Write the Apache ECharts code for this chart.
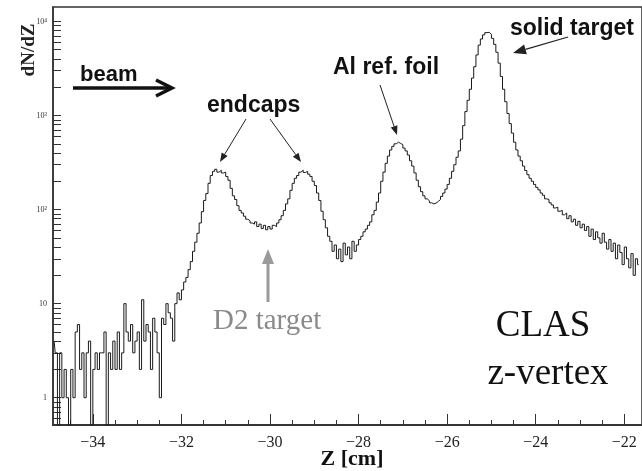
<!DOCTYPE html>
<html>
<head>
<meta charset="utf-8">
<script src="https://cdn.jsdelivr.net/npm/echarts@6/dist/echarts.min.js"></script>
<style>
html, body { margin: 0; padding: 0; background: #fff; }
#chart { width: 642px; height: 471px; }
</style>
</head>
<body>
<div id="chart"></div>
<script>
// histogram: 0.05 cm bins starting at z = -34.9 cm, one row per 0.5 cm
const binStart = -34.9
const binWidth = 0.05
const counts = [
  4, 3, 0, 3, 1, 2, 1, 0, 2, 1,
  5, 6, 2, 3, 1, 3, 4, 0, 2, 3,
  2, 3, 3, 5, 0, 3, 2, 4, 2, 5,
  2, 3, 10, 5, 4, 6, 3, 4, 5, 2,
  11, 4, 6, 5, 2, 7, 5, 3, 1, 7,
  6, 10, 8, 7, 4, 10, 13, 11, 14, 17,
  19, 23, 28, 36, 45, 56, 72, 95, 125, 148,
  190, 230, 255, 268, 250, 262, 245, 250, 225, 205,
  168, 140, 128, 110, 98, 92, 85, 79, 76, 72,
  70, 74, 66, 70, 63, 68, 61, 66, 62, 68,
  66, 72, 78, 86, 98, 115, 130, 160, 190, 215,
  230, 250, 262, 248, 255, 238, 225, 200, 180, 150,
  125, 96, 78, 64, 52, 46, 36, 42, 30, 38,
  28, 44, 33, 40, 30, 46, 36, 42, 48, 52,
  58, 62, 68, 74, 88, 98, 120, 150, 200, 250,
  310, 370, 430, 470, 500, 520, 505, 490, 450, 420,
  380, 330, 290, 245, 205, 175, 155, 140, 130, 124,
  118, 115, 117, 122, 128, 138, 150, 165, 185, 215,
  255, 300, 360, 420, 560, 780, 1100, 1450, 1900, 2500,
  3300, 4400, 5600, 6500, 7200, 7600, 7650, 7300, 6600, 5700,
  4700, 3600, 2600, 1900, 1400, 1050, 820, 650, 520, 430,
  370, 330, 290, 260, 235, 215, 200, 185, 172, 162,
  150, 142, 130, 128, 118, 112, 104, 106, 96, 98,
  88, 92, 80, 86, 74, 79, 68, 75, 64, 70,
  60, 66, 52, 62, 48, 58, 50, 44, 56, 45,
  38, 48, 36, 44, 30, 42, 35, 26, 40, 30,
  24, 34, 20, 30, 26
]

const xTickMajor = [-34, -32, -30, -28, -26, -24, -22]
const xTickMinor = [-34.5, -34, -33.5, -33, -32.5, -32, -31.5, -31, -30.5, -30, -29.5, -29,
  -28.5, -28, -27.5, -27, -26.5, -26, -25.5, -25, -24.5, -24, -23.5, -23, -22.5, -22]
const yTickValues = [1, 10, 100, 1000, 10000]
const yTickLabels = ['1', '10', '10²', '10³', '10⁴']
const yTickAll = [0.6, 0.7, 0.8, 0.9, 1, 2, 3, 4, 5, 6, 7, 8, 9, 10, 20, 30, 40, 50, 60, 70, 80, 90,
  100, 200, 300, 400, 500, 600, 700, 800, 900, 1000, 2000, 3000, 4000, 5000, 6000, 7000, 8000, 9000, 10000]

// empty bins can't sit on a log axis, push them below the frame so they get clipped
const histData = counts.map((c, i) => [binStart + binWidth * (i + 0.5), c > 0 ? c : 0.3])

const serif = '"Liberation Serif", "DejaVu Serif", serif'
const sans = '"Liberation Sans", Arial, sans-serif'
// grid runs 2px past the right edge so its border there stays off-canvas
const xRange = { min: -34.9, max: -21.6 }
const yRange = { min: 0.513, max: 14230 }
const frameLine = { color: '#333', width: 1.5 }

function arrow(x1, y1, x2, y2, color, width, headLen, headWid) {
  const a = Math.atan2(y2 - y1, x2 - x1)
  const bx = x2 - Math.cos(a) * headLen
  const by = y2 - Math.sin(a) * headLen
  const nx = -Math.sin(a) * headWid / 2
  const ny = Math.cos(a) * headWid / 2
  return {
    type: 'group',
    children: [
      { type: 'line', shape: { x1: x1, y1: y1, x2: bx, y2: by }, style: { stroke: color, lineWidth: width } },
      { type: 'polygon', shape: { points: [[x2, y2], [bx + nx, by + ny], [bx - nx, by - ny]] }, style: { fill: color } }
    ]
  }
}

function label(text, x, y, font, color, align, rotation) {
  return {
    type: 'text', x: x, y: y, rotation: rotation || 0,
    style: { text: text, font: font, fill: color || '#111', align: align || 'left', verticalAlign: 'middle' }
  }
}

const chart = echarts.init(document.getElementById('chart'))

chart.setOption({
  backgroundColor: '#fff',
  animation: false,
  grid: { left: 53, right: -2, top: 7, bottom: 46, show: true, borderColor: '#333', borderWidth: 1.5 },
  xAxis: [
    {
      type: 'value', min: xRange.min, max: xRange.max, position: 'bottom',
      axisLine: { onZero: false, lineStyle: frameLine },
      axisTick: { inside: true, length: 11, customValues: xTickMajor, lineStyle: { color: '#333' } },
      axisLabel: {
        customValues: xTickMajor, margin: 10, color: '#222', fontSize: 16, fontFamily: serif,
        formatter: (v) => '\u2212' + Math.abs(v)
      },
      splitLine: { show: false }
    },
    {
      // second bottom axis over the first one, only for the 0.5 cm ticks
      type: 'value', min: xRange.min, max: xRange.max, position: 'bottom',
      axisLine: { show: true, onZero: false, lineStyle: frameLine },
      axisTick: { show: true, inside: true, length: 5, customValues: xTickMinor, lineStyle: { color: '#333' } },
      axisLabel: { show: false },
      splitLine: { show: false }
    }
  ],
  yAxis: [
    {
      type: 'log', min: yRange.min, max: yRange.max, position: 'left',
      axisLine: { show: true, onZero: false, lineStyle: frameLine },
      axisTick: { inside: true, length: 8, customValues: yTickAll, lineStyle: { color: '#333' } },
      axisLabel: {
        customValues: yTickValues, margin: 6, color: '#333', fontSize: 8, fontFamily: serif,
        formatter: (v) => yTickLabels[yTickValues.indexOf(Math.round(v))] || ''
      },
      splitLine: { show: false }
    }
  ],
  series: [
    {
      type: 'line',
      step: 'middle',
      data: histData,
      xAxisIndex: 0,
      yAxisIndex: 0,
      showSymbol: false,
      clip: true,
      lineStyle: { color: '#1a1a1a', width: 1 }
    },
    {
      // same histogram, not drawn: binds the minor-tick axis so it gets rendered
      type: 'line',
      step: 'middle',
      data: histData,
      xAxisIndex: 1,
      yAxisIndex: 0,
      showSymbol: false,
      silent: true,
      lineStyle: { opacity: 0 }
    }
  ],
  graphic: [
    label('dN/dZ', 29, 50, 'bold 19px ' + serif, '#222', 'center', Math.PI / 2),
    label('Z [cm]', 352, 459, 'bold 22px ' + serif, '#111', 'center'),

    label('beam', 80, 75, 'bold 22px ' + sans),
    { type: 'line', shape: { x1: 73, y1: 88, x2: 171, y2: 88 }, style: { stroke: '#111', lineWidth: 3.5 } },
    { type: 'polyline', shape: { points: [[156, 80], [172, 88], [156, 96]] }, style: { stroke: '#111', lineWidth: 3.5, fill: null } },

    label('endcaps', 207, 106, 'bold 23px ' + sans),
    arrow(246, 119, 220, 162, '#222', 1, 9, 7),
    arrow(270, 119, 301, 162, '#222', 1, 9, 7),

    label('Al ref. foil', 333, 68, 'bold 23px ' + sans),
    arrow(380, 85, 397, 135, '#222', 1, 9, 7),

    label('solid target', 510, 29, 'bold 23px ' + sans),
    arrow(568, 37, 513, 53, '#222', 1.2, 13, 10),

    label('D2 target', 213, 321, '29px ' + serif, '#8a8a8a'),
    arrow(268, 302, 268, 249, '#9a9a9a', 3, 15, 12),

    {
      type: 'text', x: 543, y: 326,
      style: {
        text: 'CLAS', font: '37px ' + serif, fill: '#111', align: 'center', verticalAlign: 'middle',
        shadowBlur: 6, shadowColor: 'rgba(0,0,0,0.35)', shadowOffsetX: 2, shadowOffsetY: 3
      }
    },
    {
      type: 'text', x: 548, y: 374,
      style: {
        text: 'z-vertex', font: '37px ' + serif, fill: '#111', align: 'center', verticalAlign: 'middle',
        shadowBlur: 6, shadowColor: 'rgba(0,0,0,0.35)', shadowOffsetX: 2, shadowOffsetY: 3
      }
    }
  ]
})
</script>
</body>
</html>
